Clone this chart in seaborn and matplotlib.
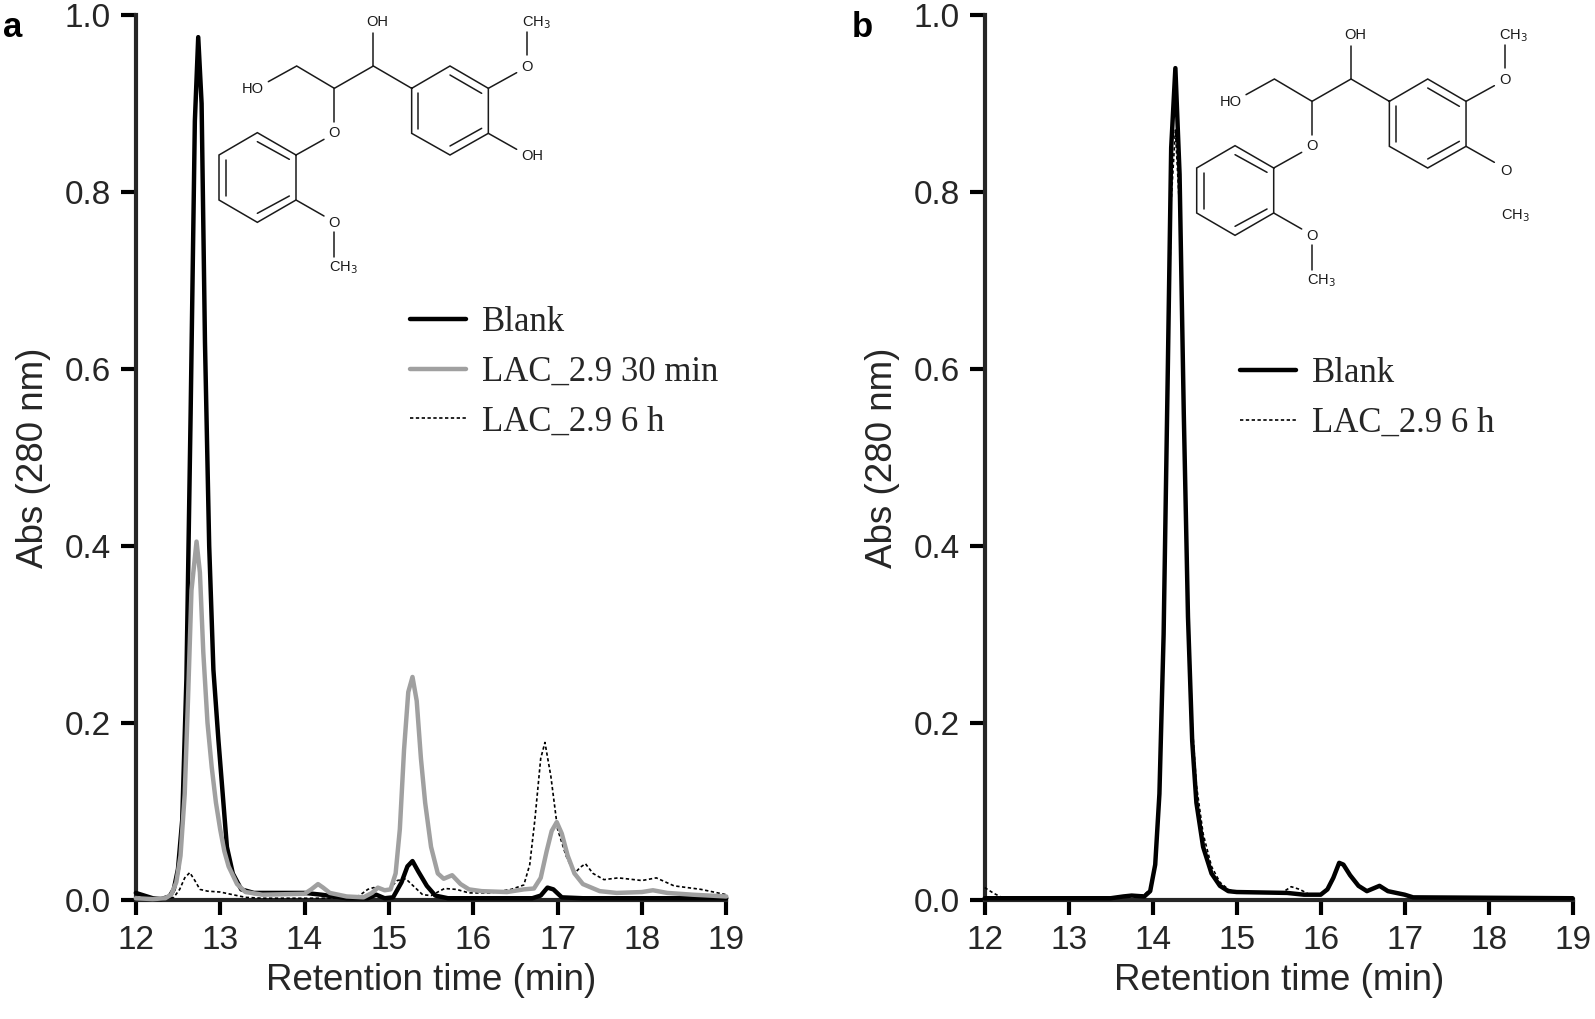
import matplotlib
matplotlib.use('Agg')
import matplotlib.pyplot as plt
import pandas as pd
import seaborn as sns

# panel a
a_blank_t = [12.0, 12.1, 12.2, 12.3, 12.4, 12.45, 12.5, 12.55, 12.6, 12.65, 12.7, 12.74, 12.78, 12.82, 12.87, 12.92, 12.98,
             13.03, 13.08, 13.15, 13.25, 13.4, 14.0, 14.2, 14.5, 14.75, 14.85, 14.95, 15.05, 15.15, 15.22, 15.28, 15.35,
             15.45, 15.55, 15.7, 16.7, 16.8, 16.88, 16.95, 17.05, 17.3, 19.0]
a_blank_y = [0.008, 0.005, 0.002, 0.001, 0.004, 0.012, 0.035, 0.09, 0.25, 0.55, 0.88, 0.975, 0.90, 0.63, 0.40, 0.26, 0.18,
             0.12, 0.06, 0.03, 0.012, 0.008, 0.008, 0.006, 0.002, 0.002, 0.006, 0.002, 0.003, 0.02, 0.038, 0.044, 0.032,
             0.016, 0.005, 0.002, 0.002, 0.005, 0.014, 0.012, 0.003, 0.002, 0.002]

a_30min_t = [12.0, 12.2, 12.35, 12.42, 12.48, 12.53, 12.58, 12.62, 12.66, 12.72, 12.76, 12.8, 12.85, 12.9, 12.95, 13.0, 13.05,
             13.1, 13.2, 13.3, 13.5, 14.0, 14.08, 14.16, 14.22, 14.3, 14.5, 14.7, 14.8, 14.87, 14.95, 15.02, 15.08, 15.13,
             15.18, 15.23, 15.28, 15.33, 15.38, 15.43, 15.5, 15.58, 15.65, 15.75, 15.85, 15.95, 16.1, 16.4, 16.6, 16.72,
             16.8, 16.87, 16.93, 16.99, 17.05, 17.12, 17.2, 17.3, 17.5, 17.7, 18.0, 18.13, 18.3, 18.6, 19.0]
a_30min_y = [0.002, 0.001, 0.002, 0.006, 0.02, 0.05, 0.12, 0.23, 0.35, 0.405, 0.37, 0.28, 0.20, 0.15, 0.11, 0.08, 0.055,
             0.038, 0.018, 0.009, 0.006, 0.007, 0.012, 0.018, 0.014, 0.008, 0.004, 0.003, 0.008, 0.014, 0.011, 0.012, 0.03, 0.08,
             0.17, 0.235, 0.252, 0.225, 0.16, 0.11, 0.06, 0.03, 0.024, 0.028, 0.018, 0.012, 0.01, 0.009, 0.012, 0.013,
             0.025, 0.055, 0.078, 0.088, 0.075, 0.05, 0.03, 0.018, 0.01, 0.008, 0.009, 0.011, 0.008, 0.006, 0.004]

a_6h_t = [12.0, 12.3, 12.45, 12.52, 12.58, 12.64, 12.7, 12.76, 12.85, 13.0, 13.15, 13.3, 13.5, 14.5, 14.65, 14.75, 14.82, 14.9,
          15.0, 15.1, 15.2, 15.3, 15.4, 15.5, 15.66, 15.8, 15.95, 16.2, 16.45, 16.6, 16.67, 16.73, 16.8, 16.85, 16.92, 17.0,
          17.1, 17.2, 17.27, 17.33, 17.42, 17.55, 17.72, 18.0, 18.17, 18.38, 18.7, 19.0]
a_6h_y = [0.003, 0.001, 0.003, 0.012, 0.025, 0.031, 0.022, 0.012, 0.01, 0.009, 0.006, 0.003, 0.002, 0.002, 0.005, 0.012, 0.014, 0.012,
          0.012, 0.022, 0.024, 0.015, 0.006, 0.005, 0.013, 0.012, 0.008, 0.008, 0.012, 0.017, 0.04, 0.09, 0.16, 0.178, 0.14, 0.08,
          0.05, 0.03, 0.037, 0.041, 0.03, 0.023, 0.025, 0.022, 0.025, 0.016, 0.012, 0.006]

# panel b
b_blank_t = [12.0, 13.5, 13.65, 13.75, 13.9, 13.97, 14.03, 14.08, 14.13, 14.18, 14.22, 14.27, 14.32, 14.37, 14.42, 14.47, 14.52,
             14.6, 14.7, 14.8, 14.9, 15.0, 15.6, 15.8, 16.0, 16.08, 16.15, 16.22, 16.27, 16.35, 16.45, 16.55, 16.6, 16.7, 16.8,
             17.0, 17.1, 19.0]
b_blank_y = [0.002, 0.002, 0.004, 0.005, 0.004, 0.01, 0.04, 0.12, 0.30, 0.60, 0.85, 0.94, 0.82, 0.55, 0.32, 0.18, 0.11,
             0.06, 0.03, 0.016, 0.01, 0.009, 0.008, 0.006, 0.006, 0.012, 0.025, 0.042, 0.04, 0.028, 0.016, 0.01, 0.012, 0.016, 0.01,
             0.006, 0.003, 0.002]

b_6h_t = [12.0, 12.1, 12.2, 12.3, 13.5, 13.9, 13.97, 14.03, 14.08, 14.13, 14.18, 14.22, 14.27, 14.32, 14.37, 14.42, 14.47, 14.52,
          14.6, 14.7, 14.8, 14.9, 15.0, 15.55, 15.65, 15.75, 15.85, 16.0, 16.08, 16.15, 16.22, 16.27, 16.35, 16.45, 16.55, 16.6,
          16.7, 16.8, 17.0, 17.1, 19.0]
b_6h_y = [0.014, 0.008, 0.003, 0.002, 0.002, 0.006, 0.012, 0.045, 0.125, 0.30, 0.57, 0.79, 0.87, 0.78, 0.56, 0.34, 0.20, 0.13,
          0.075, 0.038, 0.02, 0.012, 0.009, 0.009, 0.015, 0.012, 0.007, 0.006, 0.012, 0.025, 0.042, 0.04, 0.028, 0.016, 0.01, 0.012,
          0.016, 0.01, 0.006, 0.003, 0.002]

x_ticks = [12, 13, 14, 15, 16, 17, 18, 19]
y_ticks = [0.0, 0.2, 0.4, 0.6, 0.8, 1.0]
x_label = 'Retention time (min)'
y_label = 'Abs (280 nm)'

W, H = 1595, 1019
sns.set_style('ticks')
plt.rcParams['font.family'] = ['Liberation Sans', 'DejaVu Sans']

fig = plt.figure(figsize=(W / 100, H / 100), dpi=100)
ax_a = fig.add_axes([135.8 / W, 1 - 900 / H, 590.5 / W, 885 / H])
ax_b = fig.add_axes([984.7 / W, 1 - 900 / H, 588 / W, 885 / H])


def draw_curve(ax, t, y, label, color, lw, ls='-', z=3):
    df = pd.DataFrame({'time': t, 'abs': y})
    sns.lineplot(data=df, x='time', y='abs', ax=ax, color=color, linewidth=lw, linestyle=ls,
                 label=label, estimator=None, sort=False, clip_on=False, zorder=z,
                 solid_joinstyle='round', solid_capstyle='round')


dash = (0, (2.0, 1.5))
draw_curve(ax_a, a_blank_t, a_blank_y, 'Blank', 'black', 3.2, z=3)
draw_curve(ax_a, a_30min_t, a_30min_y, 'LAC_2.9 30 min', '#a0a0a0', 3.2, z=5)
draw_curve(ax_a, a_6h_t, a_6h_y, 'LAC_2.9 6 h', 'black', 1.2, ls=dash, z=4)
draw_curve(ax_b, b_6h_t, b_6h_y, 'LAC_2.9 6 h', 'black', 1.2, ls=dash, z=3)
draw_curve(ax_b, b_blank_t, b_blank_y, 'Blank', 'black', 3.2, z=4)

for ax in (ax_a, ax_b):
    ax.set_xlim(12, 19)
    ax.set_ylim(0, 1)
    ax.set_xticks(x_ticks)
    ax.set_yticks(y_ticks)
    ax.set_yticklabels([f'{v:.1f}' for v in y_ticks])
    ax.tick_params(axis='both', length=11, width=3, labelsize=24, pad=7, color='black')
    ax.spines['top'].set_visible(False)
    ax.spines['right'].set_visible(False)
    ax.spines['left'].set_linewidth(3)
    ax.spines['bottom'].set_linewidth(3)
    ax.set_xlabel(x_label, fontsize=26.5, labelpad=5)
    ax.set_ylabel(y_label, fontsize=26.5, labelpad=10)

# legends
font_leg = {'family': 'Liberation Serif', 'size': 25}
leg_kw = dict(frameon=False, loc='upper left', prop=font_leg, borderpad=0, borderaxespad=0,
              handlelength=1.61, handletextpad=0.47, labelspacing=0.48)
h, l = ax_a.get_legend_handles_labels()
ax_a.legend(h, l, bbox_to_anchor=((410 - 135.8) / 590.5, (900 - 306) / 885), **leg_kw)
h, l = ax_b.get_legend_handles_labels()
order = [l.index('Blank'), l.index('LAC_2.9 6 h')]
ax_b.legend([h[i] for i in order], [l[i] for i in order],
            bbox_to_anchor=((1240 - 984.7) / 588, (900 - 357) / 885), **leg_kw)

# panel letters
fig.text(3 / W, 1 - 37 / H, 'a', fontsize=25, fontweight='bold', color='black')
fig.text(852 / W, 1 - 37 / H, 'b', fontsize=25, fontweight='bold', color='black')

# chemical structures, drawn on a full figure overlay in reference pixels
over = fig.add_axes([0, 0, 1, 1])
over.set_xlim(0, W)
over.set_ylim(H, 0)
over.axis('off')

bonds_common = [
    [(205, 245), (290, 198), (403, 265), (520, 198), (635, 265), (750, 198), (865, 265), (865, 400), (750, 465), (635, 400), (635, 265)],
    [(520, 198), (520, 100)],
    [(655, 280), (655, 388)],
    [(750, 225), (845, 280)],
    [(750, 438), (845, 385)],
    [(865, 265), (950, 218)],
    [(982, 165), (982, 97)],
    [(403, 265), (403, 365)],
    [(372, 418), (288, 465), (172, 398), (57, 465), (57, 600), (172, 667), (288, 600), (288, 465)],
    [(172, 425), (268, 478)],
    [(78, 480), (78, 588)],
    [(172, 640), (268, 588)],
    [(288, 600), (372, 648)],
    [(403, 695), (403, 770)],
    [(865, 400), (950, 448)],
]
labels_common = [(158, 267, 'HO'), (533, 67, 'OH'), (982, 200, 'O'), (1008, 68, 'CH$_3$'),
                 (403, 400, 'O'), (403, 670, 'O'), (430, 803, 'CH$_3$')]
bonds_a = []
labels_a = [(997, 468, 'OH')]
bonds_b = [[(984, 505), (984, 575)]]
labels_b = [(984, 475, 'O'), (1012, 607, 'CH$_3$')]


def draw_structure(x0, y0, bonds, labels):
    for b in bonds:
        over.plot([x0 + p[0] / 3 for p in b], [y0 + p[1] / 3 for p in b], color='#1a1a1a', lw=1.1,
                  solid_joinstyle='miter')
    for zx, zy, s in labels:
        over.text(x0 + zx / 3, y0 + zy / 3, s, fontsize=10.5, ha='center', va='center', color='#1a1a1a',
                  math_fontfamily='custom' if False else 'dejavusans')


plt.rcParams['mathtext.fontset'] = 'custom'
plt.rcParams['mathtext.rm'] = 'Liberation Sans'
plt.rcParams['mathtext.default'] = 'rm'
draw_structure(200, 0, bonds_common, labels_common + labels_a)
draw_structure(1177.7, 13, bonds_common, labels_common + labels_b)

fig.savefig('out.png', dpi=100)
